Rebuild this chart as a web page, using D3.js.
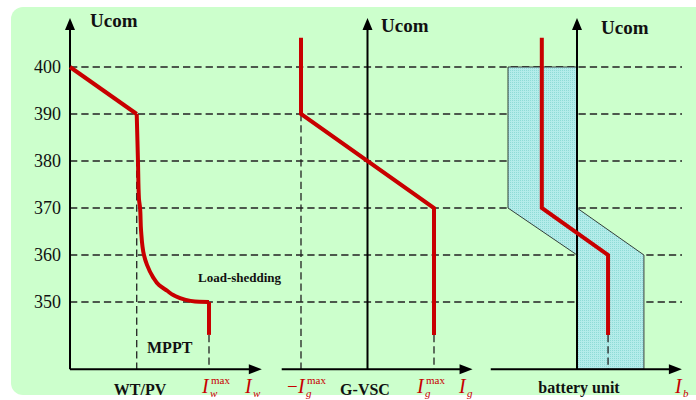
<!DOCTYPE html>
<html><head><meta charset="utf-8">
<script src="https://cdn.jsdelivr.net/npm/d3@7"></script>
<style>html,body{margin:0;padding:0;background:#fff;}svg{display:block;}</style>
</head><body>
<script>
// ---- data ----
const uTicks = [350, 360, 370, 380, 390, 400];
// WT/PV droop curve (current in units of Iw_max, voltage)
const wtLineI = [0, 0.48];
const wtLineU = [400, 390];
const wtCurveI = [0.48, 0.489, 0.496, 0.504, 0.511, 0.532, 0.554, 0.597, 0.640, 0.698, 0.748, 0.827, 0.899, 1.0];
const wtCurveU = [390, 380, 372, 370, 365.3, 360, 357.9, 355.3, 353.6, 352.4, 351.4, 350.5, 350.1, 350];
const wtTailI = [1.0, 1.0];
const wtTailU = [350, 343];
// G-VSC
const gI = [-1, -1, 1, 1];
const gU = [406.2, 390, 370, 343];
// battery unit
const bI = [-1.02, -1.02, 0.9, 0.9];
const bU = [406.2, 370, 360, 343];
const bandI = [-2.0, 0, 0, 1.94, 1.94, 0, 0, -2.0];
const bandU = [400, 400, 370, 360, 335.7, 335.7, 360, 370];
const panelNames = ["WT/PV", "G-VSC", "battery unit"];

// ---- setup ----
const W = 696, H = 400;
const svg = d3.select("body").append("svg").attr("width", W).attr("height", H);
svg.append("rect").attr("x", 11).attr("y", 7).attr("width", 720).attr("height", 388)
  .attr("rx", 12).attr("fill", "#ccffcc");

const defs = svg.append("defs");
const pat = defs.append("pattern").attr("id", "dots").attr("width", 2).attr("height", 2)
  .attr("patternUnits", "userSpaceOnUse");
pat.append("rect").attr("width", 2).attr("height", 2).attr("fill", "#b4ecea");
pat.append("rect").attr("width", 1).attr("height", 1).attr("fill", "#8fdcd6");

const y = d3.scaleLinear().domain([350, 400]).range([302, 67]);
const x1 = d3.scaleLinear().domain([0, 1]).range([70, 209]);
const x2 = d3.scaleLinear().domain([-1, 1]).range([301, 434]);
const x3 = d3.scaleLinear().domain([0, 1]).range([577, 611.5]);
const RED = "#c80000";
const uBottom = 335.7, uTop = 410.4;

// grid lines
svg.append("g").selectAll("line").data(uTicks).join("line")
  .attr("x1", x1(0)).attr("x2", 682)
  .attr("y1", d => y(d)).attr("y2", d => y(d))
  .attr("stroke", "#222").attr("stroke-width", 1.3).attr("stroke-dasharray", "7.3,4");

// tick labels via axis
const ax = svg.append("g").attr("transform", "translate(61,0)")
  .call(d3.axisLeft(y).tickValues(uTicks).tickSize(0).tickPadding(0).tickFormat(d3.format("d")));
ax.select(".domain").remove();
ax.selectAll("text").attr("font-family", "Liberation Serif").attr("font-size", 18).attr("fill", "#111");

// band
svg.append("path")
  .attr("d", d3.line().x(d => x3(d[0])).y(d => y(d[1]))(bandI.map((v, i) => [v, bandU[i]])) + "Z")
  .attr("fill", "url(#dots)").attr("stroke", "#111").attr("stroke-width", 0.8);

// vertical dashed guides
const guides = [
  [x1(0.48), 390, uBottom], [x1(1), 343, uBottom],
  [x2(-1), 390, uBottom], [x2(1), 343, uBottom],
  [x3(0.9), 343, uBottom]
];
svg.append("g").selectAll("line").data(guides).join("line")
  .attr("x1", d => d[0]).attr("x2", d => d[0])
  .attr("y1", d => y(d[1])).attr("y2", d => y(d[2]))
  .attr("stroke", "#222").attr("stroke-width", 1.3).attr("stroke-dasharray", "7.3,4");

// axes with arrows
function arrowV(xp) {
  svg.append("line").attr("x1", xp).attr("x2", xp).attr("y1", y(uBottom)).attr("y2", y(uTop) + 8)
    .attr("stroke", "#000").attr("stroke-width", 2);
  const t = y(uTop);
  svg.append("path").attr("d", `M${xp},${t} L${xp - 5},${t + 12} L${xp + 5},${t + 12}Z`).attr("fill", "#000");
}
function arrowH(xs, xe) {
  const yy = y(uBottom);
  svg.append("line").attr("x1", xs).attr("x2", xe - 8).attr("y1", yy).attr("y2", yy)
    .attr("stroke", "#000").attr("stroke-width", 2);
  svg.append("path").attr("d", `M${xe},${yy} L${xe - 13},${yy - 5} L${xe - 13},${yy + 5}Z`).attr("fill", "#000");
}
arrowH(x1(0), x1(1.38));
arrowH(x2(-1.29), x2(1.58));
arrowH(x3(-2.5), x3(3.04));
arrowV(x1(0));
arrowV(x2(0));
arrowV(x3(0));

// red characteristic lines
const redStyle = p => p.attr("fill", "none").attr("stroke", RED).attr("stroke-width", 4).attr("stroke-linejoin", "miter");
const lin1 = d3.line().x(d => x1(d[0])).y(d => y(d[1]));
const cur1 = d3.line().x(d => x1(d[0])).y(d => y(d[1])).curve(d3.curveMonotoneY);
svg.append("path").attr("d", lin1(wtLineI.map((v, i) => [v, wtLineU[i]]))).call(redStyle);
svg.append("path").attr("d", cur1(wtCurveI.map((v, i) => [v, wtCurveU[i]]))).call(redStyle);
svg.append("path").attr("d", lin1(wtTailI.map((v, i) => [v, wtTailU[i]]))).call(redStyle);
svg.append("path").attr("d", d3.line().x(d => x2(d[0])).y(d => y(d[1]))(gI.map((v, i) => [v, gU[i]]))).call(redStyle);
svg.append("path").attr("d", d3.line().x(d => x3(d[0])).y(d => y(d[1]))(bI.map((v, i) => [v, bU[i]]))).call(redStyle);

// text
function txt(x, yy, s, size, opts = {}) {
  return svg.append("text").attr("x", x).attr("y", yy).text(s)
    .attr("font-family", "Liberation Serif").attr("font-size", size)
    .attr("font-weight", opts.bold ? "bold" : "normal")
    .attr("font-style", opts.italic ? "italic" : "normal")
    .attr("fill", opts.color || "#111")
    .attr("text-anchor", opts.anchor || "start");
}
txt(90, 27, "Ucom", 19, {bold: true});
txt(381, 32, "Ucom", 19, {bold: true});
txt(601, 34, "Ucom", 19, {bold: true});
txt(198, 282, "Load-shedding", 13, {bold: true});
txt(147, 353, "MPPT", 16, {bold: true});
txt(140, 395, panelNames[0], 16, {bold: true, anchor: "middle"});
txt(365, 395, panelNames[1], 16, {bold: true, anchor: "middle"});
txt(579, 393, panelNames[2], 16, {bold: true, anchor: "middle"});

function curLabel(x, sub, sup, minus) {
  let xx = x;
  if (minus) { txt(xx, 393, "\u2212", 19, {color: RED}); xx += 11; }
  txt(xx, 393, "I", 20, {italic: true, color: RED});
  txt(xx + 8, 397, sub, 11, {italic: true, color: RED});
  if (sup) txt(xx + 9, 384, sup, 11, {color: RED});
}
curLabel(202, "w", "max");
curLabel(245, "w");
curLabel(287, "g", "max", true);
curLabel(417, "g", "max");
curLabel(459, "g");
curLabel(675, "b");
</script>
</body></html>
